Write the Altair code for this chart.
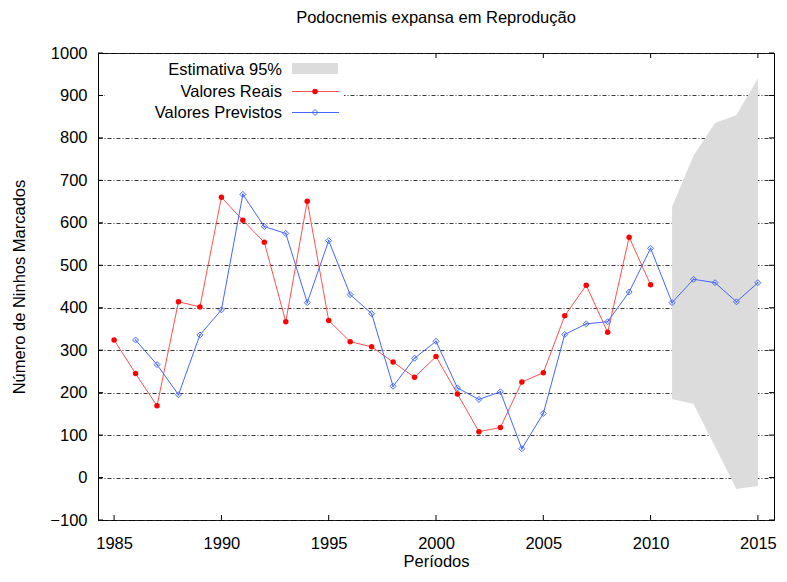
import altair as alt
import pandas as pd

# ---- data ----
years_real = list(range(1985, 2011))
valores_reais = [324, 245, 169, 414, 402, 660, 606, 554, 367, 651, 370, 320, 308,
                 272, 236, 285, 197, 108, 118, 225, 247, 381, 453, 342, 566, 454]
years_prev = list(range(1986, 2016))
valores_previstos = [324, 266, 195, 336, 395, 667, 591, 575, 412, 558, 431, 386, 215,
                     281, 321, 211, 184, 202, 68, 151, 337, 362, 367, 437, 540, 412,
                     467, 459, 414, 459]
band_years = [2011, 2012, 2013, 2014, 2015]
band_lo = [185, 173, 73, -27, -20]
band_hi = [638, 758, 835, 854, 940]
x_ticks = [1985, 1990, 1995, 2000, 2005, 2010, 2015]
y_ticks = list(range(-100, 1001, 100))

FONT = "Liberation Sans"
FS = 16.5
W, H = 676, 467
RED = "#ff0000"
RED_LINE = "#ff5050"
BLUE = "#4466ff"

df_real = pd.DataFrame({"year": years_real, "v": valores_reais})
df_prev = pd.DataFrame({"year": years_prev, "v": valores_previstos})
df_band = pd.DataFrame({"year": band_years, "lo": band_lo, "hi": band_hi})
df_xt = pd.DataFrame({"year": x_ticks})
df_yt = pd.DataFrame({"v": y_ticks})

xs = alt.Scale(domain=[1984.25, 2015.75], nice=False, zero=False)
ys = alt.Scale(domain=[-100, 1000], nice=False, zero=False)

xaxis = alt.Axis(values=x_ticks, format="d", tickSize=0, labelPadding=15, domain=False,
                 grid=False, labelFontSize=FS, labelFont=FONT, labelColor="black",
                 titleFontSize=FS, titleFont=FONT, titleFontWeight="normal",
                 titleColor="black", titlePadding=2)
yaxis = alt.Axis(values=y_ticks, format="d", tickSize=0, labelPadding=11, domain=False,
                 grid=True, gridColor="#222222", gridDash=[4, 2, 1, 2], gridWidth=0.9,
                 labelFontSize=FS, labelFont=FONT, labelColor="black",
                 titleFontSize=FS, titleFont=FONT, titleFontWeight="normal",
                 titleColor="black", titlePadding=22)

X = lambda: alt.X("year:Q", scale=xs, axis=xaxis, title="Períodos")
Y = lambda f="v": alt.Y(f"{f}:Q", scale=ys, axis=yaxis, title="Número de Ninhos Marcados")

band = alt.Chart(df_band).mark_area(color="#dcdcdc", opacity=1).encode(
    x=X(), y=Y("lo"), y2="hi")

real_line = alt.Chart(df_real).mark_line(color=RED_LINE, strokeWidth=1).encode(x=X(), y=Y())
real_pts = alt.Chart(df_real).mark_point(shape="circle", filled=True, color=RED, size=30,
                                         opacity=1).encode(x=X(), y=Y())
prev_line = alt.Chart(df_prev).mark_line(color=BLUE, strokeWidth=1).encode(x=X(), y=Y())
prev_pts = alt.Chart(df_prev).mark_point(shape="diamond", filled=False, color=BLUE, size=36,
                                         strokeWidth=1, opacity=1).encode(x=X(), y=Y())
prev_dot = alt.Chart(df_prev).mark_point(shape="circle", filled=True, color=BLUE, size=3,
                                         opacity=1).encode(x=X(), y=Y())

# inward ticks (gnuplot style) on all four sides
xt_bottom = alt.Chart(df_xt).mark_rule(color="black", strokeWidth=1).encode(
    x=X(), y=alt.value(H), y2=alt.value(H - 5))
xt_top = alt.Chart(df_xt).mark_rule(color="black", strokeWidth=1).encode(
    x=X(), y=alt.value(0), y2=alt.value(5))
yt_left = alt.Chart(df_yt).mark_rule(color="black", strokeWidth=1).encode(
    y=Y(), x=alt.value(0), x2=alt.value(5))
yt_right = alt.Chart(df_yt).mark_rule(color="black", strokeWidth=1).encode(
    y=Y(), x=alt.value(W - 5), x2=alt.value(W))

# legend (key) drawn inside the plot, top-left, labels left of samples
one = pd.DataFrame({"k": [0]})
key_bg = alt.Chart(one).mark_rect(color="white", opacity=1).encode(
    x=alt.value(7), x2=alt.value(246), y=alt.value(1), y2=alt.value(70))


def key_text(label, yy):
    return alt.Chart(pd.DataFrame({"t": [label]})).mark_text(
        align="right", baseline="middle", font=FONT, fontSize=FS, color="black"
    ).encode(x=alt.value(184), y=alt.value(yy), text="t:N")


key_band = alt.Chart(one).mark_rect(color="#dcdcdc", opacity=1).encode(
    x=alt.value(194), x2=alt.value(240), y=alt.value(10), y2=alt.value(21))
key_red_line = alt.Chart(one).mark_rule(color=RED_LINE, strokeWidth=1).encode(
    x=alt.value(194), x2=alt.value(241), y=alt.value(38.5))
key_red_pt = alt.Chart(one).mark_point(shape="circle", filled=True, color=RED, size=30,
                                       opacity=1).encode(x=alt.value(217), y=alt.value(38.5))
key_blue_line = alt.Chart(one).mark_rule(color=BLUE, strokeWidth=1).encode(
    x=alt.value(194), x2=alt.value(241), y=alt.value(59.5))
key_blue_pt = alt.Chart(one).mark_point(shape="diamond", filled=False, color=BLUE, size=36,
                                        strokeWidth=1, opacity=1).encode(
    x=alt.value(217), y=alt.value(59.5))

chart = alt.layer(
    band, real_line, real_pts, prev_line, prev_pts, prev_dot,
    xt_bottom, xt_top, yt_left, yt_right,
    key_bg, key_text("Estimativa 95%", 17), key_band,
    key_text("Valores Reais", 38.5), key_red_line, key_red_pt,
    key_text("Valores Previstos", 59.5), key_blue_line, key_blue_pt,
).properties(
    width=W, height=H,
    title=alt.TitleParams("Podocnemis expansa em Reprodução", font=FONT, fontSize=FS,
                          fontWeight="normal", color="black", anchor="middle", offset=19),
    autosize=alt.AutoSizeParams(type="none"),
    padding={"left": 90, "top": 45, "right": 5, "bottom": 50},
).configure_view(stroke="black", strokeWidth=1)

chart.save("out.html", embed_options={"renderer": "svg", "actions": False})
